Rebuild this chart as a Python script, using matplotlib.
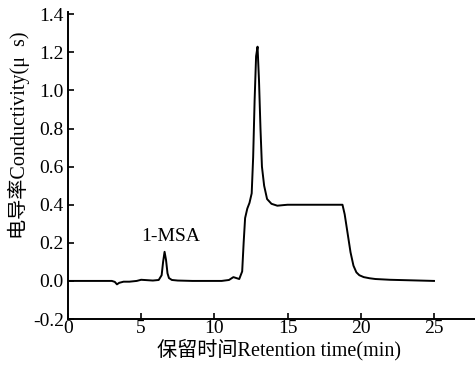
import matplotlib
matplotlib.use("Agg")
import matplotlib.pyplot as plt

plt.rcParams['font.family'] = ['Liberation Serif', 'Noto Sans CJK SC']

time_min = [0.0, 1.0, 2.0, 3.0, 3.2, 3.35, 3.5, 3.8, 4.2, 4.7, 5.0, 5.4, 5.8, 6.2, 6.4, 6.5, 6.6, 6.7, 6.8, 6.9, 7.1, 7.5, 8.5, 9.5, 10.5, 11.0, 11.3, 11.5, 11.7,
            11.9, 12.0, 12.1, 12.25, 12.4, 12.55, 12.65, 12.75, 12.85, 12.95, 13.05, 13.15, 13.25, 13.4, 13.6, 13.9, 14.3, 14.7, 15.0, 15.5, 16.5, 17.5, 18.5, 18.75,
            18.9, 19.1, 19.3, 19.5, 19.7, 19.9, 20.2, 20.6, 21.0, 22.0, 23.0, 24.0, 25.0]
conductivity = [0.0, 0.0, 0.0, 0.0, -0.005, -0.018, -0.01, -0.004, -0.004, 0.0, 0.006, 0.004, 0.002, 0.005, 0.03, 0.1, 0.153, 0.11, 0.04, 0.015, 0.005, 0.002, 0.0, 0.0, 0.0, 0.005, 0.02, 0.015, 0.01,
                0.05, 0.2, 0.33, 0.38, 0.41, 0.46, 0.65, 0.95, 1.18, 1.23, 1.05, 0.8, 0.6, 0.5, 0.43, 0.405, 0.395, 0.398, 0.4, 0.4, 0.4, 0.4, 0.4, 0.4,
                0.35, 0.25, 0.15, 0.08, 0.045, 0.03, 0.02, 0.014, 0.01, 0.006, 0.004, 0.002, 0.0]

x_ticks = [0, 5, 10, 15, 20, 25]
y_ticks = [-0.2, 0.0, 0.2, 0.4, 0.6, 0.8, 1.0, 1.2, 1.4]
y_tick_labels = ['-0.2', '0.0', '0.2', '0.4', '0.6', '0.8', '1.0', '1.2', '1.4']

fig = plt.figure(figsize=(4.75, 3.65), dpi=100)
ax = fig.add_axes([0.143, 0.126, 0.857, 0.840])
ax.plot(time_min, conductivity, color='black', lw=1.4)
ax.set_xlim(0, 27.8)
ax.set_ylim(-0.2, 1.41)
ax.set_xticks(x_ticks)
ax.set_yticks(y_ticks)
ax.set_yticklabels(y_tick_labels)
ax.tick_params(direction='in', length=4, width=1.2, labelsize=14, color='black')
ax.tick_params(axis='x', pad=1)
ax.tick_params(axis='y', pad=3)
for s in ['top', 'right']:
    ax.spines[s].set_visible(False)
for s in ['left', 'bottom']:
    ax.spines[s].set_linewidth(1.4)
ax.set_xlabel('保留时间Retention time(min)', fontsize=14.5)
ax.xaxis.set_label_coords(0.518, -0.066)
ax.set_ylabel('电导率Conductivity(μ  s)', fontsize=14.5)
ax.yaxis.set_label_coords(-0.092, 0.60)
ax.annotate('1-MSA', xy=(7.0, 0.19), ha='center', va='bottom', fontsize=14)
fig.savefig('out.png', dpi=100)
